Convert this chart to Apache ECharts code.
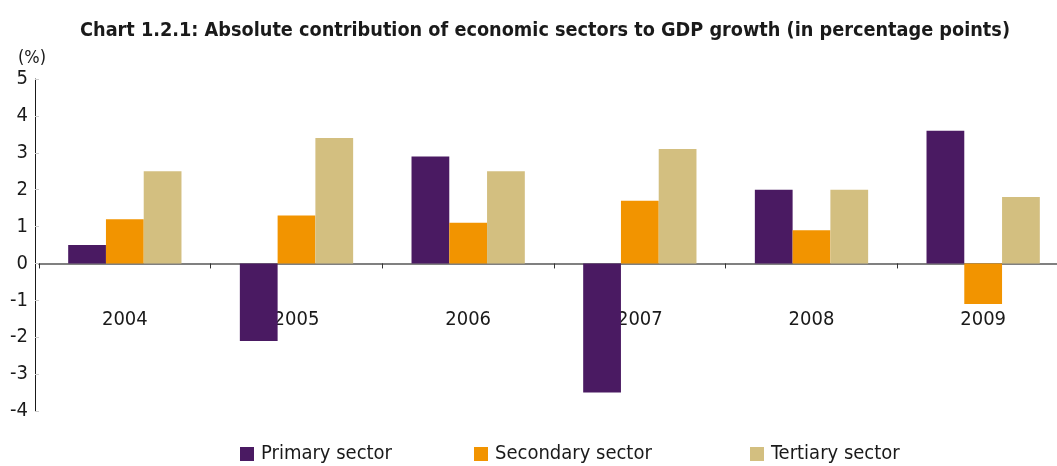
<!DOCTYPE html>
<html>
<head>
<meta charset="utf-8">
<script src="https://cdn.jsdelivr.net/npm/echarts@6/dist/echarts.min.js"></script>
<style>
  html, body { margin: 0; padding: 0; background: #fff; }
  #chart { width: 1057px; height: 466px; }
</style>
</head>
<body>
<div id="chart"></div>
<script>
// Contribution to GDP growth by sector, percentage points
const years = ['2004', '2005', '2006', '2007', '2008', '2009'];
const primary = [0.5, -2.1, 2.9, -3.5, 2.0, 3.6];
const secondary = [1.2, 1.3, 1.1, 1.7, 0.9, -1.1];
const tertiary = [2.5, 3.4, 2.5, 3.1, 2.0, 1.8];
const yTicks = [-4, -3, -2, -1, 0, 1, 2, 3, 4, 5];

const FONT = '"Liberation Sans Narrow", "DejaVu Sans Condensed", "Open Sans", sans-serif';
const colors = { primary: '#4A1A62', secondary: '#F29400', tertiary: '#D3BF80' };

const chart = echarts.init(document.getElementById('chart'));

function legendAt(left, name) {
  return {
    left: left, top: 444,
    itemWidth: 14, itemHeight: 14, itemGap: 0,
    icon: 'rect',
    data: [name],
    textStyle: { fontFamily: FONT, fontSize: 20, color: '#1a1a1a', padding: [2, 0, 0, 2] },
    padding: 0
  };
}

chart.setOption({
  animation: false,
  title: {
    text: 'Chart 1.2.1: Absolute contribution of economic sectors to GDP growth (in percentage points)',
    left: 540, top: 16, textAlign: 'center',
    textStyle: { fontFamily: FONT, fontWeight: 'bold', fontSize: 19.7, color: '#1a1a1a' }
  },
  legend: [
    legendAt(240, 'Primary sector'),
    legendAt(474, 'Secondary sector'),
    legendAt(750, 'Tertiary sector')
  ],
  grid: { left: 39, right: -12, top: 79, bottom: 55, containLabel: false, outerBoundsMode: 'none' },
  xAxis: {
    type: 'category',
    data: years,
    axisLine: { onZero: true, lineStyle: { color: '#808080', width: 2 } },
    axisTick: { show: true, length: 5, lineStyle: { color: '#333', width: 1 } },
    // year labels sit a fixed distance below the zero line
    axisLabel: { margin: -101, fontFamily: FONT, fontSize: 20, color: '#1a1a1a' }
  },
  yAxis: {
    type: 'value',
    min: yTicks[0], max: yTicks[yTicks.length - 1], interval: 1,
    offset: 4,
    name: '(%)',
    nameLocation: 'end',
    nameGap: 12,
    nameTextStyle: { fontFamily: FONT, fontSize: 18, color: '#1a1a1a', align: 'center', padding: [0, 6, 0, 0] },
    axisLine: { show: true, lineStyle: { color: '#1a1a1a', width: 1 } },
    axisTick: { show: true, inside: true, length: 4, lineStyle: { color: '#ccc' } },
    axisLabel: { margin: 7, fontFamily: FONT, fontSize: 20, color: '#1a1a1a' },
    splitLine: { show: false }
  },
  series: [
    { name: 'Primary sector', type: 'bar', data: primary, itemStyle: { color: colors.primary }, barGap: '0%', barCategoryGap: '34%' },
    { name: 'Secondary sector', type: 'bar', data: secondary, itemStyle: { color: colors.secondary } },
    { name: 'Tertiary sector', type: 'bar', data: tertiary, itemStyle: { color: colors.tertiary } }
  ]
});
</script>
</body>
</html>
